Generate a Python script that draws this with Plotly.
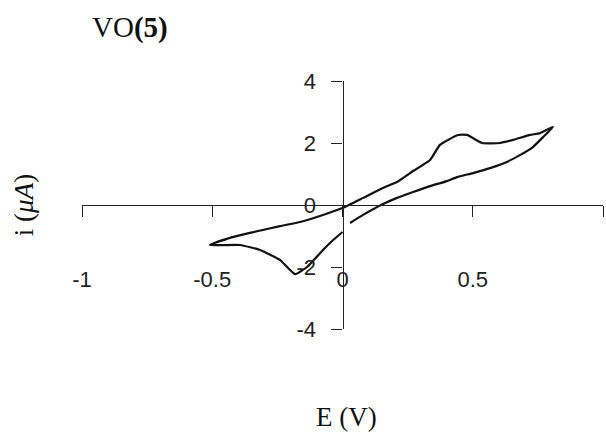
import plotly.graph_objects as go

# Cyclic voltammogram of VO(5): potential (V) and current (µA) along the sweep
potential_v = [
    0.000, -0.040, -0.075, -0.136, -0.182, -0.240, -0.317, -0.393, -0.509,
    -0.432, -0.355, -0.240, -0.163, -0.075, 0.000, 0.079, 0.155, 0.209,
    0.259, 0.336, 0.374, 0.443, 0.478, 0.536, 0.605, 0.655, 0.720, 0.758,
    0.808,
    0.770, 0.731, 0.681, 0.631, 0.566, 0.501, 0.440, 0.401, 0.336, 0.271,
    0.209, 0.148, 0.079, 0.029,
]
current_ua = [
    -0.87, -1.16, -1.45, -2.00, -2.23, -1.77, -1.45, -1.29, -1.29,
    -1.06, -0.90, -0.68, -0.55, -0.32, -0.10, 0.23, 0.55, 0.74,
    1.03, 1.45, 1.94, 2.26, 2.26, 2.00, 2.00, 2.10, 2.26, 2.32,
    2.52,
    2.19, 1.87, 1.61, 1.39, 1.19, 1.03, 0.90, 0.77, 0.61, 0.42,
    0.23, 0.00, -0.32, -0.58,
]

x_tick_vals = [-1, -0.5, 0, 0.5, 1]
x_tick_text = ["-1", "-0.5", "0", "0.5", "1"]
y_tick_vals = [-4, -2, 0, 2, 4]
y_tick_text = ["-4", "-2", "0", "2", "4"]

sans = "Liberation Sans, Arial, sans-serif"
serif = "Liberation Serif"

fig = go.Figure(
    go.Scatter(
        x=potential_v,
        y=current_ua,
        mode="lines",
        line=dict(color="#111111", width=2.2, shape="spline", smoothing=0.4),
        hoverinfo="skip",
    )
)

fig.update_layout(
    width=606,
    height=433,
    margin=dict(l=82, r=3, t=81, b=104),
    paper_bgcolor="white",
    plot_bgcolor="white",
    showlegend=False,
)

# Axes cross at the origin
fig.update_xaxes(
    range=[-1, 1],
    anchor="free",
    position=0.5,
    showline=True,
    linecolor="#222222",
    linewidth=1.2,
    ticks="outside",
    ticklen=11,
    tickwidth=1.2,
    tickcolor="#222222",
    tickvals=x_tick_vals,
    ticktext=x_tick_text,
    ticklabelstandoff=43,
    tickfont=dict(family=sans, size=22, color="#222222"),
    showgrid=False,
    zeroline=False,
)
fig.update_yaxes(
    range=[-4, 4],
    anchor="free",
    position=0.5,
    showline=True,
    linecolor="#222222",
    linewidth=1.2,
    ticks="outside",
    ticklen=11,
    tickwidth=1.2,
    tickcolor="#222222",
    tickvals=y_tick_vals,
    ticktext=y_tick_text,
    ticklabelstandoff=11,
    tickfont=dict(family=sans, size=22, color="#222222"),
    showgrid=False,
    zeroline=False,
)

fig.add_annotation(
    text="VO<b>(5)</b>", xref="paper", yref="paper", x=0.0154, y=1.214,
    xanchor="left", yanchor="middle", showarrow=False,
    font=dict(family=serif, size=29, color="#111111"),
)
fig.add_annotation(
    text="E (V)", xref="paper", yref="paper", x=0.507, y=-0.355,
    xanchor="center", yanchor="middle", showarrow=False,
    font=dict(family=serif, size=27, color="#111111"),
)
fig.add_annotation(
    text="i (<i>μA</i>)", xref="paper", yref="paper", x=-0.111, y=0.5,
    xanchor="center", yanchor="middle", textangle=-90, showarrow=False,
    font=dict(family=serif, size=27, color="#111111"),
)

fig.write_html("out.html")
